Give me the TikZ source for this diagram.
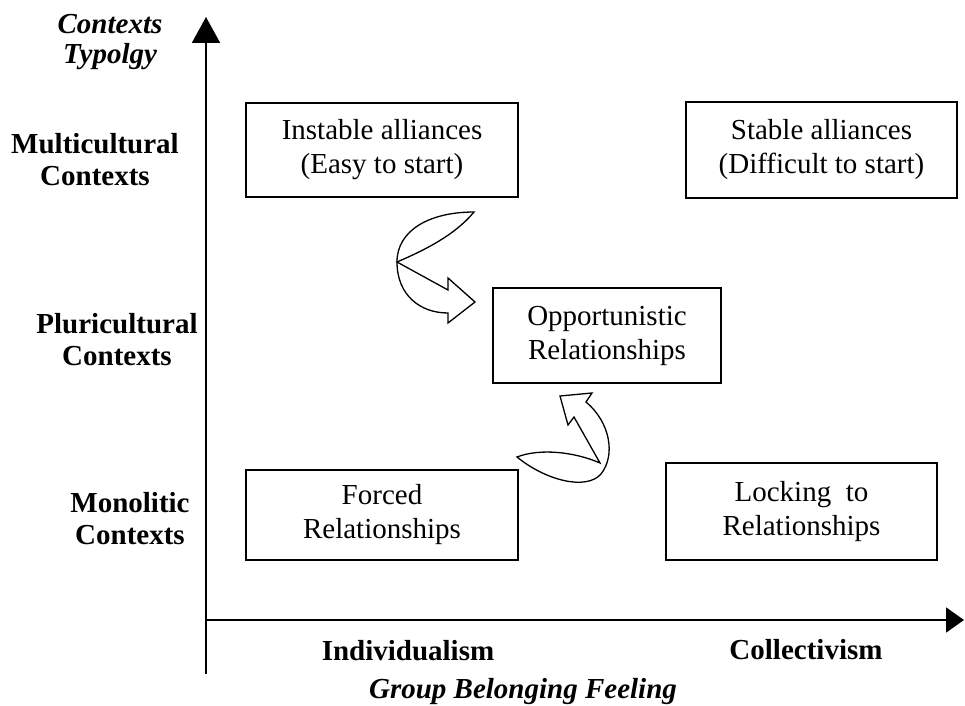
\documentclass[tikz,border=0pt]{standalone}
\usepackage{fontspec}
\setmainfont{Liberation Serif}
\usetikzlibrary{arrows.meta}
\begin{document}
\begin{tikzpicture}[x=0.5pt,y=-0.5pt,
  txt/.style={font=\fontsize{14.5}{16.5}\selectfont, align=center, inner sep=0pt},
  lbl/.style={txt, font=\fontsize{14.5}{16}\selectfont\bfseries},
  ilbl/.style={txt, font=\fontsize{14.5}{15}\selectfont\bfseries\itshape},
  boxtxt/.style={draw, line width=0.65pt, txt, font=\fontsize{14.5}{17}\selectfont, outer sep=0pt},
  axis/.style={line width=1pt},
  curvedarrow/.style={draw, fill=white, line width=0.65pt, line join=miter}]
\useasboundingbox (0,0) rectangle (965,706);

% axes
\coordinate (yb) at (206,674);
\coordinate (yt) at (206,17);
\coordinate (xl) at (206,620);
\coordinate (xr) at (964,620);
\draw[axis, -{Triangle[length=13pt,width=14pt]}] (yb) -- (yt);
\draw[axis, -{Triangle[length=9pt,width=12.5pt]}] (xl) -- (xr);

% axis labels
\node[ilbl] (ytitle) at (110,42) {Contexts\\Typolgy};
\node[ilbl] (xtitle) at (523,692) {Group Belonging Feeling};
\node[lbl] (multi) at (95,160) {Multicultural\\Contexts};
\node[lbl] (pluri) at (117,340) {Pluricultural\\Contexts};
\node[lbl] (mono) at (130,519) {Monolitic\\Contexts};
\node[lbl] (indiv) at (408,651) {Individualism};
\node[lbl] (coll) at (806,650) {Collectivism};

% boxes
\node[boxtxt, minimum width=136pt, minimum height=47pt] (inst) at (382,150) {Instable alliances\\(Easy to start)};
\node[boxtxt, minimum width=135.5pt, minimum height=48pt] (stab) at (821.5,150) {Stable alliances\\(Difficult to start)};
\node[boxtxt, minimum width=114pt, minimum height=47.5pt] (opp) at (607,335.5) {Opportunistic\\Relationships};
\node[boxtxt, minimum width=136pt, minimum height=45pt] (forced) at (382,515) {Forced\\Relationships};
\node[boxtxt, minimum width=135.5pt, minimum height=48.5pt] (lock) at (801.5,511.5) {Locking~ to\\Relationships};

% curved arrow from instable alliances to opportunistic
\path[curvedarrow] (474,212) .. controls (430,212) and (397,230) .. (397,262)
  .. controls (397,295) and (420,313) .. (448,313)
  -- (448,323) -- (475,302) -- (448,278) -- (448,290) -- (397,262)
  .. controls (425,250) and (455,235) .. (474,212) -- cycle;

% curved arrow from forced to opportunistic
\path[curvedarrow] (517,457) .. controls (540,448) and (575,452) .. (600,463)
  -- (574,417) -- (568,425) -- (560,396) -- (592,393) -- (586,402)
  .. controls (610,422) and (616,455) .. (601,474)
  .. controls (586,491) and (545,480) .. (517,457) -- cycle;
\end{tikzpicture}
\end{document}
